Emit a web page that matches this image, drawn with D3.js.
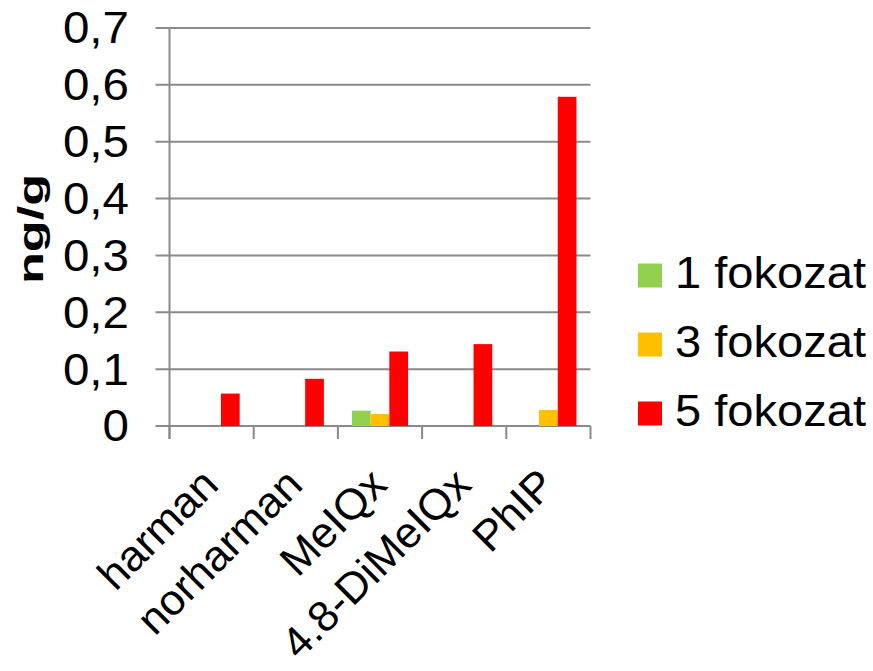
<!DOCTYPE html>
<html>
<head>
<meta charset="utf-8">
<script src="https://cdn.jsdelivr.net/npm/d3@7"></script>
<style>
  html, body { margin: 0; padding: 0; background: #fff; }
  svg { display: block; font-family: "Liberation Sans", Arial, sans-serif; }
</style>
</head>
<body>
<svg id="chart" width="873" height="671"></svg>
<script>
// Heterocyclic amine content by cooking degree (ng/g)
const categories = ["harman", "norharman", "MeIQx", "4.8-DiMeIQx", "PhIP"];
const seriesNames = ["1 fokozat", "3 fokozat", "5 fokozat"];
const fokozat1 = [0, 0, 0.027, 0, 0];
const fokozat3 = [0, 0, 0.021, 0, 0.028];
const fokozat5 = [0.057, 0.083, 0.131, 0.144, 0.579];
const seriesColors = ["#92D050", "#FFC000", "#FF0000"];
const yTickValues = [0, 0.1, 0.2, 0.3, 0.4, 0.5, 0.6, 0.7];
const yTickLabels = ["0", "0,1", "0,2", "0,3", "0,4", "0,5", "0,6", "0,7"];
const yTitle = "ng/g";

const seriesValues = [fokozat1, fokozat3, fokozat5];
const rows = categories.map((c, i) => ({
  category: c,
  values: seriesNames.map((s, k) => ({ series: s, value: seriesValues[k][i], color: seriesColors[k] }))
}));

const svg = d3.select("#chart");
const plot = { left: 169.5, right: 590.5, top: 28, bottom: 426 };
const gridColor = "#8a8a8a";

const x = d3.scaleBand().domain(categories).range([plot.left, plot.right]).paddingInner(0).paddingOuter(0);
const xs = d3.scaleBand().domain(seriesNames).range([0, x.bandwidth()]).paddingInner(0).paddingOuter(0.75);
const y = d3.scaleLinear().domain([0, 0.7]).range([plot.bottom, plot.top]);

// horizontal gridlines with short left ticks
svg.append("g").selectAll("line").data(yTickValues).join("line")
  .attr("x1", plot.left - 14).attr("x2", plot.right)
  .attr("y1", d => y(d)).attr("y2", d => y(d))
  .attr("stroke", gridColor).attr("stroke-width", 2);

// vertical axis line
svg.append("line")
  .attr("x1", plot.left).attr("x2", plot.left)
  .attr("y1", plot.top).attr("y2", plot.bottom + 13)
  .attr("stroke", gridColor).attr("stroke-width", 2);

// category boundary ticks
const boundaries = categories.map(c => x(c)).concat([x(categories[categories.length - 1]) + x.bandwidth()]);
svg.append("g").selectAll("line").data(boundaries).join("line")
  .attr("x1", d => d).attr("x2", d => d)
  .attr("y1", plot.bottom).attr("y2", plot.bottom + 13)
  .attr("stroke", gridColor).attr("stroke-width", 2);

// bars
const groups = svg.append("g").selectAll("g").data(rows).join("g")
  .attr("transform", d => `translate(${x(d.category)},0)`);
groups.selectAll("rect").data(d => d.values.filter(v => v.value > 0)).join("rect")
  .attr("x", d => xs(d.series))
  .attr("width", xs.bandwidth())
  .attr("y", d => y(d.value))
  .attr("height", d => y(0) - y(d.value))
  .attr("fill", d => d.color);

// y tick labels
svg.append("g").selectAll("text").data(yTickValues).join("text")
  .attr("transform", d => `translate(129,${y(d)}) scale(1.08,1)`)
  .attr("dy", "0.35em")
  .attr("text-anchor", "end")
  .attr("font-size", 44)
  .attr("fill", "#000")
  .text((d, i) => yTickLabels[i]);

// y axis title
svg.append("text")
  .attr("transform", "translate(43,229) rotate(-90) scale(1.45,1)")
  .attr("text-anchor", "middle")
  .attr("font-size", 36)
  .attr("font-weight", "bold")
  .attr("fill", "#000")
  .text(yTitle);

// rotated category labels
svg.append("g").selectAll("text").data(categories).join("text")
  .attr("transform", d => `translate(${x(d) + x.bandwidth() / 2 + 9},487) rotate(-45) scale(1.02,1)`)
  .attr("text-anchor", "end")
  .attr("font-size", 43)
  .attr("fill", "#000")
  .text(d => d);

// legend
const legend = svg.append("g").selectAll("g").data(seriesNames).join("g")
  .attr("transform", (d, i) => `translate(638,${263.5 + i * 69})`);
legend.append("rect")
  .attr("width", 24).attr("height", 24)
  .attr("fill", (d, i) => seriesColors[i]);
legend.append("text")
  .attr("transform", "translate(37,24) scale(1.07,1)")
  .attr("font-size", 44)
  .attr("fill", "#000")
  .text(d => d);
</script>
</body>
</html>
